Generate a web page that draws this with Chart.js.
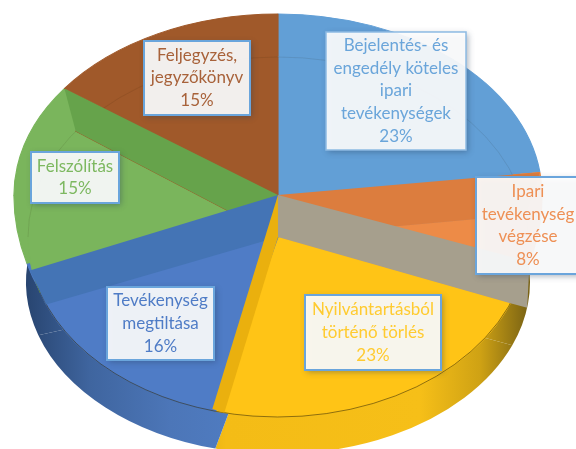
<!DOCTYPE html>
<html><head><meta charset="utf-8">
<style>html,body{margin:0;padding:0;background:#fff}canvas{display:block}</style>
<script src="https://cdn.jsdelivr.net/npm/chart.js@4"></script>
</head><body><canvas id="c" width="576" height="449"></canvas>
<script>
const categories = ["Bejelentés- és engedély köteles ipari tevékenységek","Ipari tevékenység végzése","Nyilvántartásból történő törlés","Tevékenység megtiltása","Felszólítás","Feljegyzés, jegyzőkönyv"];
const values = [23,8,23,16,15,15];
const labelLines = [["Bejelentés- és","engedély köteles","ipari","tevékenységek"],["Ipari","tevékenység","végzése"],["Nyilvántartásból","történő törlés"],["Tevékenység","megtiltása"],["Felszólítás"],["Feljegyzés,","jegyzőkönyv"]];
const topColors = ["#629FD6","#ED8B47","#FFC416","#4F7CC6","#7AB55C","#A0592A"];
const textColors = ["#6AA5DA","#EE9055","#FFCB30","#4F7CC6","#7DB860","#A8623A"];
const wallColors = ["#DC7D3E","#A69F8D","#EAB00E","#4474B5","#66A34B",null];
const sideColors = ["#629FD6","#A69F8D","#F5BE17","#4E78BC","#3E639C","#A0592A"];
const labelBoxes = [[326,32,140,118],[476,177,104,97],[305,295,136,75],[107,287,107,73],[31,152,88,51],[144,41,106,74]];
// geometry of the tilted pie
const rimC=[278,195], rimRx=264, rimUp=181, rimDown=221;
const topC=[278,237], topRx=250, topRy=180;
const sideC=[278,282], sideRx=252, sideRy=172;
// wall end-point tweaks (degrees) at the edge after each slice: [outer, inner]
const wallTweak=[[0,0],[-4,0],[0,-2],[-2,-4],[0,0],[0,0]];

const W=576,H=449;
function paint(ctx,arc,color,X,Y,rx,ry){
  const R=arc.outerRadius,sx=rx/R,sy=ry/R;
  ctx.save();
  ctx.setTransform(sx,0,0,sy,X-arc.x*sx,Y-arc.y*sy);
  const a=Object.create(arc);
  a.options=Object.assign({},arc.options,{backgroundColor:color,borderColor:typeof color==='string'?color:'rgba(0,0,0,0)',borderWidth:1});
  arc.draw.call(a,ctx);
  ctx.restore();
}
function sideGradient(ctx,arc,stops){
  const sx=sideRx/arc.outerRadius;
  const gx=v=>arc.x+(v-sideC[0])/sx;
  const g=ctx.createLinearGradient(gx(stops[0][0]),0,gx(stops[stops.length-1][0]),0);
  const a=stops[0][0],b=stops[stops.length-1][0];
  stops.forEach(s=>g.addColorStop((s[0]-a)/(b-a),s[1]));
  return g;
}
function polar(c,rx,ryUp,ryDown,deg){
  const t=deg*Math.PI/180,cs=Math.cos(t);
  return [c[0]+rx*Math.sin(t),c[1]-(cs>0?ryUp:ryDown)*cs];
}
const pie3d={id:'pie3d',
  beforeDatasetsDraw(chart){
    const ctx=chart.ctx,arcs=chart.getDatasetMeta(0).data;
    // side of the disc
    arcs.forEach((arc,i)=>{
      let col=sideColors[i];
      if(i===3||i===4) col=sideGradient(ctx,arc,[[20,"#26426C"],[90,"#3F659F"],[170,"#4C76B8"],[230,"#4F7BC0"]]);
      if(i===1||i===2) col=sideGradient(ctx,arc,[[205,"#E9B212"],[226,"#F4BC16"],[420,"#F6BF18"],[480,"#CFA214"],[535,"#6E5A14"]]);
      paint(ctx,arc,col,sideC[0],sideC[1],sideRx,sideRy);
    });
    // outer rim disc, apex above its own centre
    ctx.save();ctx.beginPath();ctx.rect(0,0,W,rimC[1]+.5);ctx.clip();
    arcs.forEach((arc,i)=>paint(ctx,arc,topColors[i],rimC[0],rimC[1],rimRx,rimUp));
    ctx.restore();
    ctx.save();ctx.beginPath();ctx.rect(0,rimC[1],W,H);ctx.clip();
    arcs.forEach((arc,i)=>paint(ctx,arc,topColors[i],rimC[0],rimC[1],rimRx,rimDown));
    ctx.restore();
    // inner face
    arcs.forEach((arc,i)=>paint(ctx,arc,topColors[i],topC[0],topC[1],topRx,topRy));
    // ring line
    ctx.save();
    ctx.beginPath();ctx.ellipse(topC[0],topC[1],topRx,topRy,0,Math.PI,2*Math.PI);
    ctx.strokeStyle="rgba(40,30,10,.10)";ctx.lineWidth=1;ctx.stroke();
    ctx.beginPath();ctx.ellipse(topC[0],topC[1],topRx,topRy,0,.1,Math.PI-.25);
    ctx.strokeStyle="rgba(50,40,10,.55)";ctx.stroke();
    ctx.restore();
    // walls between slices, back to front
    [0,1,4,3,2].forEach(i=>{
      if(!wallColors[i]) return;
      const deg=(arcs[i].endAngle+Math.PI/2)*180/Math.PI;
      const t=wallTweak[i];
      const o=polar(rimC,rimRx,rimUp,rimDown,deg+t[0]);
      const n=polar(topC,topRx,topRy,topRy,deg+t[1]);
      ctx.beginPath();
      ctx.moveTo(rimC[0],rimC[1]);ctx.lineTo(o[0],o[1]);
      if(i===1){const s=polar(sideC,sideRx,sideRy,sideRy,deg-13);ctx.lineTo(s[0],s[1]);}
      ctx.lineTo(n[0],n[1]);ctx.lineTo(topC[0],topC[1]);ctx.closePath();
      ctx.fillStyle=wallColors[i];ctx.fill();
    });
    return false;
  },
  afterDraw(chart){
    const ctx=chart.ctx,total=values.reduce((a,b)=>a+b,0);
    ctx.save();
    labelBoxes.forEach((b,i)=>{
      ctx.save();
      ctx.shadowColor="rgba(40,60,90,.45)";ctx.shadowBlur=6;ctx.shadowOffsetX=2;ctx.shadowOffsetY=2;
      ctx.fillStyle="rgba(255,255,255,.91)";ctx.fillRect(b[0],b[1],b[2],b[3]);
      ctx.restore();
      ctx.strokeStyle=i===0?"#8DBBE3":"#6AA5DC";ctx.lineWidth=i===0?1.5:2;
      ctx.strokeRect(b[0],b[1],b[2],b[3]);
      const lines=labelLines[i].concat([Math.round(values[i]/total*100)+"%"]);
      ctx.fillStyle=textColors[i];ctx.textAlign="center";ctx.textBaseline="middle";
      ctx.font="17px Lato";
      const lh=22.7,x=b[0]+b[2]/2,y0=b[1]+b[3]/2-(lines.length-1)*lh/2;
      lines.forEach((l,k)=>ctx.fillText(l,x,y0+k*lh));
    });
    ctx.restore();
  }
};
new Chart(document.getElementById('c'),{
  type:'pie',
  data:{labels:categories,datasets:[{data:values,backgroundColor:topColors,borderWidth:0}]},
  options:{responsive:false,animation:false,rotation:0,layout:{padding:0},
    plugins:{legend:{display:false},tooltip:{enabled:false}}},
  plugins:[pie3d]
});
</script></body></html>
